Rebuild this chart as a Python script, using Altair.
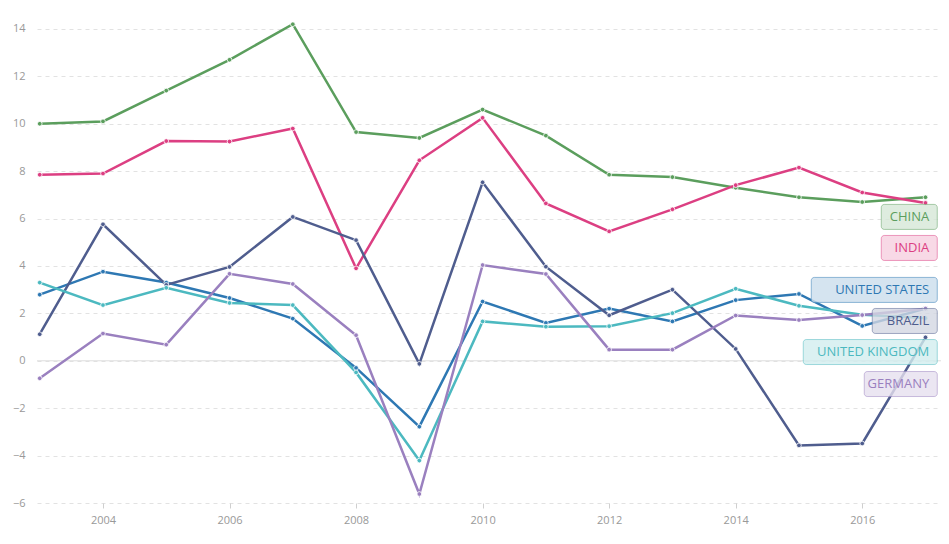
import altair as alt
import pandas as pd

years = list(range(2003, 2018))
countries = ["CHINA", "INDIA", "UNITED STATES", "BRAZIL", "UNITED KINGDOM", "GERMANY"]
colors = ["#5b9e5d", "#dc3f82", "#2e78b3", "#4f5d8e", "#4cb9c0", "#9a80bf"]

china = [10.0, 10.1, 11.4, 12.7, 14.2, 9.65, 9.4, 10.6, 9.5, 7.85, 7.75, 7.3, 6.9, 6.7, 6.9]
india = [7.85, 7.9, 9.27, 9.25, 9.8, 3.9, 8.46, 10.25, 6.64, 5.46, 6.39, 7.41, 8.15, 7.1, 6.66]
united_states = [2.79, 3.76, 3.3, 2.65, 1.78, -0.3, -2.78, 2.5, 1.6, 2.2, 1.66, 2.56, 2.82, 1.47, 2.2]
brazil = [1.12, 5.76, 3.2, 3.96, 6.07, 5.09, -0.13, 7.53, 3.97, 1.92, 3.0, 0.5, -3.57, -3.49, 0.99]
united_kingdom = [3.3, 2.35, 3.08, 2.44, 2.35, -0.49, -4.21, 1.66, 1.44, 1.46, 2.01, 3.04, 2.32, 1.94, 1.8]
germany = [-0.74, 1.15, 0.68, 3.67, 3.24, 1.08, -5.62, 4.04, 3.66, 0.47, 0.47, 1.91, 1.72, 1.93, 2.2]

series = [china, india, united_states, brazil, united_kingdom, germany]

y_ticks = [-6, -4, -2, 0, 2, 4, 6, 8, 10, 12, 14]
x_ticks = [2004, 2006, 2008, 2010, 2012, 2014, 2016]

# end-label layout (data units for vertical centre, pixel widths of boxes)
label_center = [6.07, 4.76, 2.99, 1.68, 0.37, -0.98]
label_box_px = [56, 56, 126, 65, 134, 73]

rows = []
for name, vals in zip(countries, series):
    for yr, v in zip(years, vals):
        rows.append({"country": name, "year": yr, "value": v})
df = pd.DataFrame(rows)

px_per_year = 904 / (2017.245 - 2002.957)
px_per_unit = 493 / 20.8
box_right = 2017.186
lab_rows = []
for name, c, w in zip(countries, label_center, label_box_px):
    lab_rows.append({
        "country": name,
        "x": box_right - w / px_per_year,
        "x2": box_right,
        "y": c - 12.5 / px_per_unit,
        "y2": c + 12.5 / px_per_unit,
        "tx": box_right - 8 / px_per_year,
        "ty": c,
    })
lab = pd.DataFrame(lab_rows)

xs = alt.Scale(domain=[2002.957, 2017.245], nice=False, zero=False)
ys = alt.Scale(domain=[-6, 14.8], nice=False, zero=False)
cs = alt.Scale(domain=countries, range=colors)

base = alt.Chart(df)

zero = alt.Chart(pd.DataFrame({"v": [0]})).mark_rule(color="#dedede", strokeWidth=1).encode(
    y=alt.Y("v:Q", scale=ys)
)

lines = base.mark_line(strokeWidth=2.5, interpolate="linear").encode(
    x=alt.X("year:Q", scale=xs, title=None,
            axis=alt.Axis(values=x_ticks, format="d", grid=False, domain=False,
                          tickColor="#cfcfcf", tickSize=5, labelPadding=6,
                          labelColor="#999999", labelFontSize=11, labelFont="Open Sans")),
    y=alt.Y("value:Q", scale=ys, title=None,
            axis=alt.Axis(values=y_ticks, grid=True, gridDash=[4, 4], gridColor="#e2e2e2",
                          domain=False, ticks=False, labelPadding=12,
                          labelColor="#999999", labelFontSize=11, labelFont="Open Sans")),
    color=alt.Color("country:N", scale=cs, legend=None),
    detail="country:N",
)

points = base.mark_point(filled=True, size=22, stroke="white", strokeWidth=0.8, opacity=1).encode(
    x=alt.X("year:Q", scale=xs),
    y=alt.Y("value:Q", scale=ys),
    fill=alt.Fill("country:N", scale=cs, legend=None),
)

under = alt.Chart(lab).mark_rect(cornerRadius=3, fill="white", fillOpacity=0.75).encode(
    x=alt.X("x:Q", scale=xs),
    x2="x2:Q",
    y=alt.Y("y:Q", scale=ys),
    y2="y2:Q",
)

boxes = alt.Chart(lab).mark_rect(cornerRadius=3, fillOpacity=0.2, strokeWidth=1, strokeOpacity=0.5).encode(
    x=alt.X("x:Q", scale=xs),
    x2="x2:Q",
    y=alt.Y("y:Q", scale=ys),
    y2="y2:Q",
    fill=alt.Fill("country:N", scale=cs, legend=None),
    stroke=alt.Stroke("country:N", scale=cs, legend=None),
)

texts = alt.Chart(lab).mark_text(align="right", baseline="middle", fontSize=13, font="Open Sans").encode(
    x=alt.X("tx:Q", scale=xs),
    y=alt.Y("ty:Q", scale=ys),
    text="country:N",
    color=alt.Color("country:N", scale=cs, legend=None),
)

chart = alt.layer(zero, lines, points, under, boxes, texts).properties(
    width=904, height=493,
    autosize=alt.AutoSizeParams(type="none"),
    padding={"left": 29, "top": 2, "right": 0, "bottom": 34},
).configure_view(stroke=None)

chart.save("out.html", embed_options={"renderer": "svg", "actions": False})
